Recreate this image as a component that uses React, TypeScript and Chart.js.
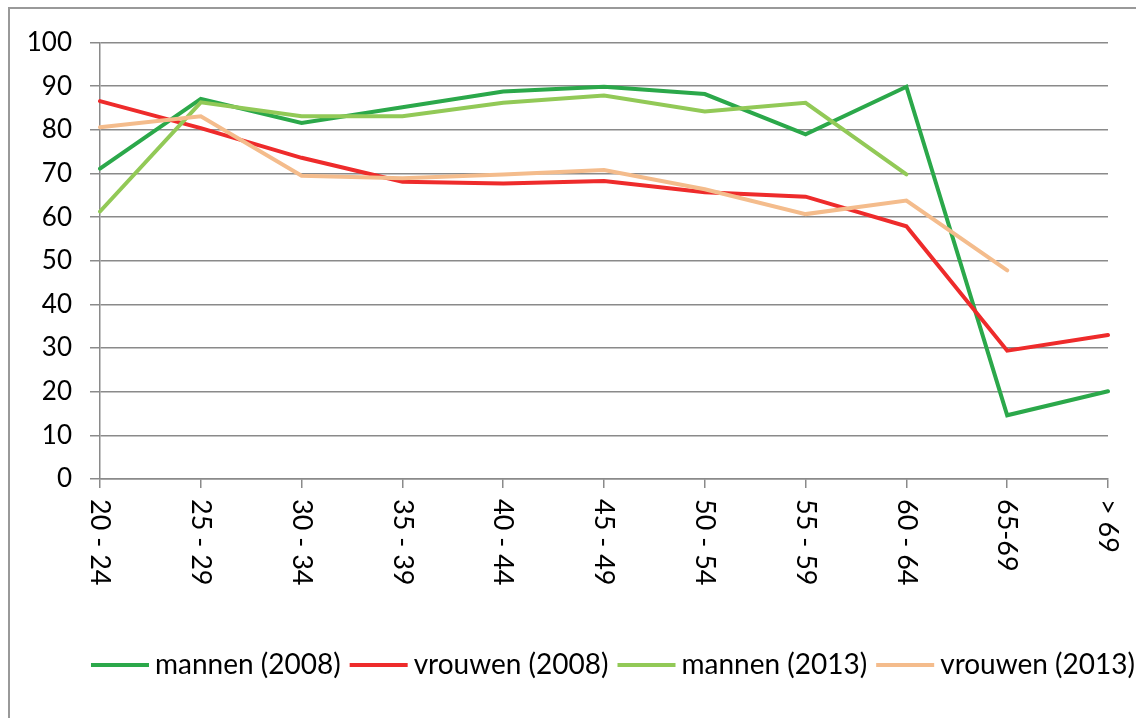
import React, { useEffect, useRef } from "react";
import { Chart, registerables } from "chart.js";

Chart.register(...registerables);

const categories = ["20 - 24", "25 - 29", "30 - 34", "35 - 39", "40 - 44", "45 - 49", "50 - 54", "55 - 59", "60 - 64", "65-69", "> 69"];
const mannen2008 = [71.1, 87.1, 81.6, 85.2, 88.8, 89.9, 88.2, 79.0, 89.9, 14.6, 20.1];
const vrouwen2008 = [86.6, 80.4, 73.6, 68.1, 67.7, 68.3, 65.7, 64.7, 57.9, 29.4, 33.0];
const mannen2013 = [61.3, 86.3, 83.1, 83.1, 86.2, 87.9, 84.2, 86.2, 69.8, null, null];
const vrouwen2013 = [80.6, 83.1, 69.5, 68.9, 69.8, 70.8, 66.4, 60.7, 63.8, 47.8, null];
const seriesNames = ["mannen (2008)", "vrouwen (2008)", "mannen (2013)", "vrouwen (2013)"];
const seriesColors = ["#2ba84a", "#ee2b2b", "#92c957", "#f4bc8c"];
const yMin = 0;
const yMax = 100;
const yStep = 10;

const FONT_FAMILY = "Lato";
const Y_FONT_SIZE = 26;
const X_FONT = `27px ${FONT_FAMILY}`;
const LEGEND_FONT = `28px ${FONT_FAMILY}`;
const GRID = "#8a8a8a";

const xLabelPlugin = {
  id: "xLabelsRotated",
  afterDraw(chart: any) {
    const { ctx, chartArea } = chart;
    const xs = chart.scales.x;
    ctx.save();
    ctx.font = X_FONT;
    ctx.fillStyle = "#000";
    ctx.textAlign = "left";
    ctx.textBaseline = "middle";
    categories.forEach((c, i) => {
      const x = xs.getPixelForValue(i);
      ctx.save();
      ctx.translate(x, chartArea.bottom + 20);
      ctx.rotate(Math.PI / 2);
      ctx.fillText(c, 0, 0);
      ctx.restore();
    });
    ctx.restore();
  },
};

const legendPlugin = {
  id: "customLegend",
  afterDraw(chart: any) {
    const { ctx } = chart;
    ctx.save();
    ctx.font = LEGEND_FONT;
    ctx.textBaseline = "middle";
    ctx.textAlign = "left";
    const sample = 58;
    const gap = 6;
    const itemGap = 9;
    const widths = seriesNames.map((n) => ctx.measureText(n).width);
    const total = widths.reduce((a, w) => a + sample + gap + w, 0) + itemGap * (seriesNames.length - 1);
    let x = 603 - total / 2;
    const y = 656;
    seriesNames.forEach((n, i) => {
      ctx.fillStyle = seriesColors[i];
      ctx.fillRect(x, y - 2, sample, 4);
      x += sample + gap;
      ctx.fillStyle = "#000";
      ctx.fillText(n, x, y);
      x += widths[i] + itemGap;
    });
    ctx.restore();
  },
};

export default function App() {
  const ref = useRef<HTMLCanvasElement | null>(null);
  useEffect(() => {
    if (!ref.current) return;
    const all = [mannen2008, vrouwen2008, mannen2013, vrouwen2013];
    const chart = new Chart(ref.current, {
      type: "line",
      data: {
        labels: categories,
        datasets: all.map((d, i) => ({
          label: seriesNames[i],
          data: d,
          borderColor: seriesColors[i],
          backgroundColor: seriesColors[i],
          borderWidth: 4,
          pointRadius: 0,
          pointHoverRadius: 0,
          tension: 0,
          spanGaps: false,
          borderCapStyle: "round" as const,
          order: all.length - i,
        })),
      },
      options: {
        responsive: false,
        animation: false,
        layout: { padding: { left: 18, top: 31, right: 28, bottom: 139 } },
        plugins: {
          legend: { display: false },
          tooltip: { enabled: false },
        },
        scales: {
          x: {
            offset: false,
            grid: { display: true, drawOnChartArea: false, drawTicks: true, tickLength: 9, color: GRID, lineWidth: 1.5 },
            border: { display: true, color: GRID, width: 1.5 },
            ticks: { display: false },
            afterFit: (s: any) => {
              s.height = 100;
            },
          },
          y: {
            min: yMin,
            max: yMax,
            grid: { color: GRID, lineWidth: 1.5, tickLength: 10, drawTicks: true },
            border: { display: true, color: GRID, width: 1.5 },
            ticks: {
              stepSize: yStep,
              padding: 18,
              color: "#000",
              font: { family: FONT_FAMILY, size: Y_FONT_SIZE },
            },
            afterFit: (s: any) => {
              s.width = 72;
            },
          },
        },
      },
      plugins: [xLabelPlugin, legendPlugin],
    });
    return () => chart.destroy();
  }, []);

  return (
    <div
      style={{
        position: "fixed",
        left: 8,
        top: 7,
        borderLeft: "2px solid #999",
        borderTop: "2px solid #999",
        width: 1126,
        height: 709,
        background: "#fff",
      }}
    >
      <canvas ref={ref} width={1126} height={709} style={{ display: "block" }} />
    </div>
  );
}
